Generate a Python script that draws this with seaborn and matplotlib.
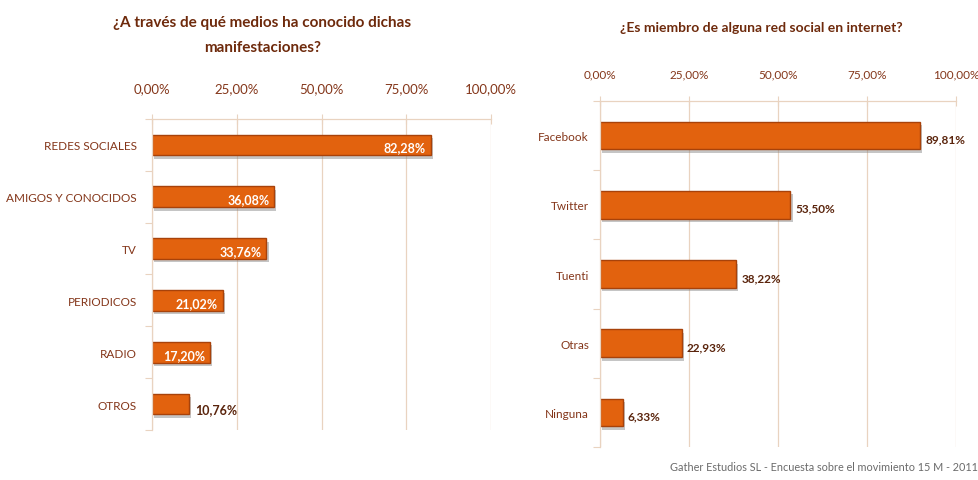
import matplotlib
matplotlib.use("Agg")
import matplotlib.pyplot as plt
import matplotlib.patheffects as pe
from matplotlib.ticker import FixedLocator, FuncFormatter
import numpy as np
import pandas as pd
import seaborn as sns

# Data
medios = ["REDES SOCIALES", "AMIGOS Y CONOCIDOS", "TV", "PERIODICOS", "RADIO", "OTROS"]
medios_pct = [82.28, 36.08, 33.76, 21.02, 17.20, 10.76]
redes = ["Facebook", "Twitter", "Tuenti", "Otras", "Ninguna"]
redes_pct = [89.81, 53.50, 38.22, 22.93, 6.33]
x_ticks = [0, 25, 50, 75, 100]

BAR = "#E2620E"
EDGE = "#A8420A"
TICK_COL = "#84361A"
TITLE_COL = "#6E2A0C"
GRID_COL = "#E9D3C0"
VAL_DARK = "#5A240C"

sns.set_theme(style="white")
plt.rcParams["font.family"] = ["Lato", "DejaVu Sans"]


def pct(v):
    return f"{v:.2f}".replace(".", ",") + "%"


def style_axis(ax, n, xsize, ysize, ypad, xpad):
    ax.set_xlim(0, 100)
    ax.set_ylim(n - 0.5, -0.5)
    ax.xaxis.tick_top()
    ax.xaxis.set_major_locator(FixedLocator(x_ticks))
    ax.xaxis.set_major_formatter(FuncFormatter(lambda v, p: pct(v)))
    ax.tick_params(axis="x", direction="inout", length=7, width=0.8,
                   color=GRID_COL, labelcolor=TICK_COL, labelsize=xsize, pad=xpad,
                   top=True, bottom=False)
    ax.yaxis.set_minor_locator(FixedLocator(np.arange(n + 1) - 0.5))
    ax.tick_params(axis="y", which="major", length=0, pad=ypad,
                   labelcolor=TICK_COL, labelsize=ysize)
    ax.tick_params(axis="y", which="minor", length=5, width=0.8,
                   color=GRID_COL, left=True, direction="out")
    ax.grid(axis="x", color=GRID_COL, linewidth=0.9)
    ax.set_axisbelow(True)
    for side in ["bottom", "right"]:
        ax.spines[side].set_visible(False)
    for side in ["top", "left"]:
        ax.spines[side].set_color(GRID_COL)
        ax.spines[side].set_linewidth(0.9)
    ax.set_xlabel("")
    ax.set_ylabel("")
    for patch in ax.patches:
        patch.set_edgecolor(EDGE)
        patch.set_linewidth(1.0)
        patch.set_path_effects([
            pe.SimplePatchShadow(offset=(1.5, -2.5), shadow_rgbFace="#808080", alpha=0.45),
            pe.Normal()])


fig = plt.figure(figsize=(9.79, 4.81), dpi=100)
ax1 = fig.add_axes([0.1553, 0.104, 0.3463, 0.6466])
ax2 = fig.add_axes([0.6129, 0.0686, 0.3636, 0.7193])

df1 = pd.DataFrame({"medio": medios, "pct": medios_pct})
sns.barplot(data=df1, x="pct", y="medio", orient="h", color=BAR,
            saturation=1, width=0.4, ax=ax1)
style_axis(ax1, len(medios), xsize=9.5, ysize=8.5, ypad=11, xpad=14)
for i, v in enumerate(medios_pct):
    if v > 15:
        ax1.text(v - 1.5, i + 0.05, pct(v), ha="right", va="center", color="white",
                 fontsize=9, fontweight="bold")
    else:
        ax1.text(v + 2, i + 0.1, pct(v), ha="left", va="center", color=VAL_DARK,
                 fontsize=9, fontweight="bold")

df2 = pd.DataFrame({"red": redes, "pct": redes_pct})
sns.barplot(data=df2, x="pct", y="red", orient="h", color=BAR,
            saturation=1, width=0.4, ax=ax2)
style_axis(ax2, len(redes), xsize=8.5, ysize=8.5, ypad=8, xpad=12)
for i, v in enumerate(redes_pct):
    ax2.text(v + 1.5, i + 0.05, pct(v), ha="left", va="center", color=VAL_DARK,
             fontsize=8.5, fontweight="bold")

fig.text(0.268, 0.967, "¿A través de qué medios ha conocido dichas\nmanifestaciones?",
         ha="center", va="top", color=TITLE_COL, fontsize=11, fontweight="bold",
         linespacing=2.05)
fig.text(0.778, 0.955, "¿Es miembro de alguna red social en internet?",
         ha="center", va="top", color=TITLE_COL, fontsize=10, fontweight="bold")
fig.text(0.999, 0.017, "Gather Estudios SL - Encuesta sobre el movimiento 15 M - 2011",
         ha="right", va="bottom", color="#6B6B6B", fontsize=7.8)

fig.savefig("out.png", dpi=100)
plt.close(fig)
